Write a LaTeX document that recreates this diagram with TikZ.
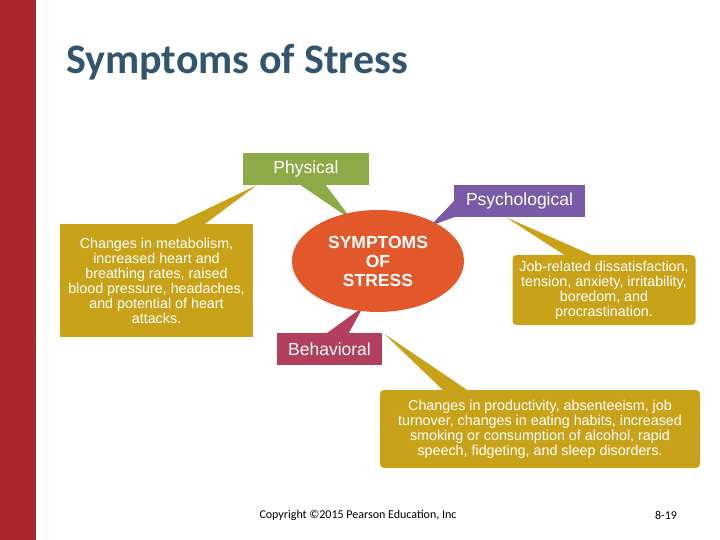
\documentclass[tikz,border=0pt]{standalone}
\usepackage{fontspec}
\setmainfont{Liberation Sans}
\newfontfamily\calibri{Carlito}
\usetikzlibrary{calc,shapes.geometric}
\pgfdeclarelayer{back}
\pgfsetlayers{back,main}
\definecolor{SosRed}{RGB}{168,38,44}
\definecolor{SosTitle}{RGB}{50,84,108}
\definecolor{SosGreen}{RGB}{141,170,72}
\definecolor{SosPurple}{RGB}{122,90,166}
\definecolor{SosOrange}{RGB}{226,88,43}
\definecolor{SosCrimson}{RGB}{178,64,92}
\definecolor{SosGold}{RGB}{200,162,25}
\tikzset{
  sos/label/.style={
    rectangle,
    inner sep=0pt,
    text=white,
    align=center,
    minimum height=32bp,
    font=\fontsize{17.5bp}{19bp}\selectfont
  },
  sos/textbox/.style={
    rectangle,
    fill=SosGold,
    inner sep=0pt,
    text=white,
    align=center,
    font=\fontsize{14.3bp}{15bp}\selectfont
  },
  sos/hub/.style={
    ellipse,
    fill=SosOrange,
    inner sep=0pt,
    text=white,
    align=center,
    minimum width=172bp,
    minimum height=102bp,
    font=\bfseries\fontsize{17.5bp}{19bp}\selectfont
  },
  sos/foot/.style={font=\calibri\fontsize{12bp}{13bp}\selectfont, text=black, inner sep=0pt}
}
\begin{document}
\begin{tikzpicture}[x=1bp,y=-1bp]
  \useasboundingbox (0,0) rectangle (720,540);
  \fill[SosRed] (0,0) rectangle (36,540);
  \node[font=\calibri\bfseries\fontsize{42bp}{44bp}\selectfont, text=SosTitle, anchor=west, inner sep=0pt] (title) at (66,62) {Symptoms of Stress};

  % centre and headings
  \node[sos/hub] (hub) at (378,261) {SYMPTOMS\\OF\\STRESS};
  \node[sos/label,fill=SosGreen,minimum width=126bp] (phys) at (306,169) {Physical};
  \node[sos/label,fill=SosPurple,minimum width=131bp] (psych) at (519.5,201) {Psychological};
  \node[sos/label,fill=SosCrimson,minimum width=105bp] (behav) at (329.5,349) {Behavioral};

  % detail boxes
  \node[sos/textbox,minimum width=193bp,minimum height=113bp] (physinfo) at (156.5,280.5)
    {Changes in metabolism,\\increased heart and\\breathing rates, raised\\blood pressure, headaches,\\and potential of heart\\attacks.};
  \node[sos/textbox,rounded corners=4bp,minimum width=183bp,minimum height=70bp] (psychinfo) at (604,290)
    {Job-related dissatisfaction,\\tension, anxiety, irritability,\\boredom, and\\procrastination.};
  \node[sos/textbox,rounded corners=4bp,minimum width=320bp,minimum height=78bp] (behavinfo) at (540,429)
    {Changes in productivity, absenteeism, job\\turnover, changes in eating habits, increased\\smoking or consumption of alcohol, rapid\\speech, fidgeting, and sleep disorders.};

  % pointers
  \begin{pgfonlayer}{back}
    \fill[SosGreen] ($(phys.south west)+(52,-4)$) -- ($(phys.south west)+(80,-4)$) -- ($(hub.center)+(-26,-41)$) -- cycle;
    \fill[SosGold] ($(phys.south west)+(14,0)$) -- ($(physinfo.north west)+(140,4)$) -- ($(physinfo.north west)+(108,4)$) -- cycle;
    \fill[SosPurple] ($(psych.south west)+(2,-18)$) -- ($(psych.south west)+(6,-2)$) -- ($(hub.center)+(52,-35)$) -- cycle;
    \fill[SosGold] ($(psych.south west)+(52,0)$) -- ($(psychinfo.north west)+(58,4)$) -- ($(psychinfo.north west)+(88,4)$) -- cycle;
    \fill[SosCrimson] ($(behav.north west)+(45,4)$) -- ($(behav.north west)+(70,4)$) -- ($(hub.center)+(-15,46)$) -- cycle;
    \fill[SosGold] ($(behav.north east)+(2,1)$) -- ($(behavinfo.north west)+(67,4)$) -- ($(behavinfo.north west)+(93,4)$) -- cycle;
  \end{pgfonlayer}

  \node[sos/foot] (copy) at (358,515) {Copyright ©2015 Pearson Education, Inc};
  \node[sos/foot] (page) at (666,515) {8-19};
\end{tikzpicture}
\end{document}
